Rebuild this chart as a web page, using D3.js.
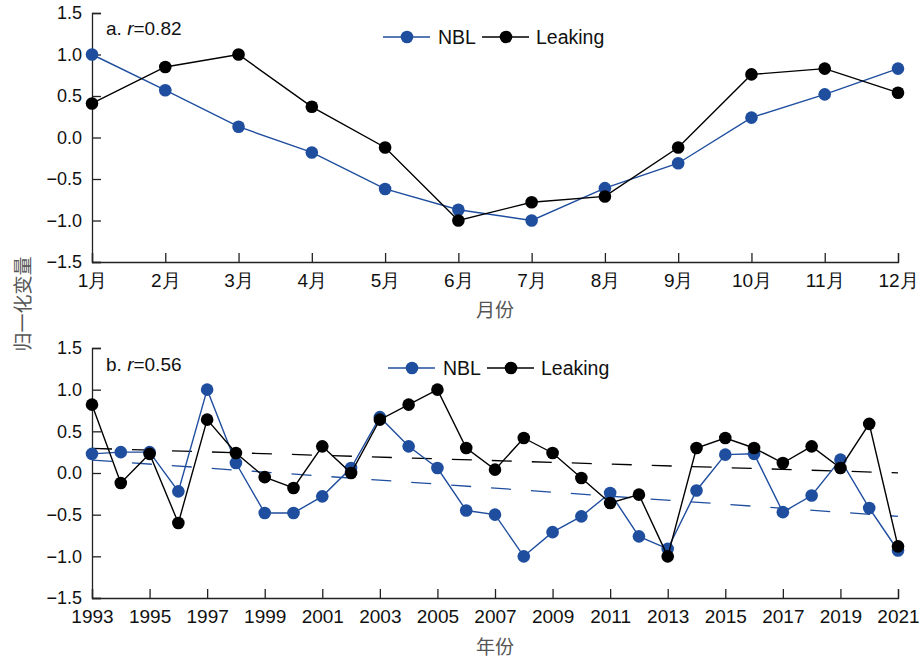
<!DOCTYPE html>
<html>
<head>
<meta charset="utf-8">
<script src="https://cdn.jsdelivr.net/npm/d3@7"></script>
<style>
  body { margin: 0; background: #fff; }
  svg { display: block; font-family: "Liberation Sans", Arial, sans-serif; }
</style>
</head>
<body>
<script>
(function (d3) {
    "use strict";

    /***** Data *****/
    var months = ["1月", "2月", "3月", "4月", "5月", "6月", "7月", "8月", "9月", "10月", "11月", "12月"];
    var nblMonthly = [1.0, 0.57, 0.13, -0.18, -0.62, -0.87, -1.0, -0.61, -0.31, 0.24, 0.52, 0.83];
    var leakMonthly = [0.41, 0.85, 1.0, 0.37, -0.12, -1.0, -0.78, -0.71, -0.12, 0.76, 0.83, 0.54];

    var years = [1993, 1994, 1995, 1996, 1997, 1998, 1999, 2000, 2001, 2002, 2003, 2004, 2005, 2006, 2007,
                 2008, 2009, 2010, 2011, 2012, 2013, 2014, 2015, 2016, 2017, 2018, 2019, 2020, 2021];
    var nblYearly = [0.23, 0.25, 0.25, -0.22, 1.0, 0.12, -0.48, -0.48, -0.28, 0.06, 0.67, 0.32, 0.06, -0.45, -0.50,
                     -1.0, -0.71, -0.52, -0.24, -0.76, -0.91, -0.21, 0.22, 0.23, -0.47, -0.27, 0.16, -0.42, -0.93];
    var leakYearly = [0.82, -0.12, 0.23, -0.60, 0.64, 0.24, -0.05, -0.18, 0.32, 0.0, 0.64, 0.82, 1.0, 0.30, 0.04,
                      0.42, 0.24, -0.06, -0.36, -0.26, -1.0, 0.30, 0.42, 0.30, 0.12, 0.32, 0.06, 0.59, -0.88];
    var yearTicks = [1993, 1995, 1997, 1999, 2001, 2003, 2005, 2007, 2009, 2011, 2013, 2015, 2017, 2019, 2021];
    var yTicks = [-1.5, -1.0, -0.5, 0.0, 0.5, 1.0, 1.5];

    /***** Configuration *****/
    var width = 921, height = 658;
    var left = 92, right = 898;
    var blue = "#1f4e9f";
    var dotR = 6.3;

    var svg = d3.select("body").append("svg")
        .attr("width", width)
        .attr("height", height);

    /***** Helpers *****/
    function drawAxes(g, xScale, yScale, xTickValues, xFormat) {
        var xAxis = d3.axisBottom(xScale).tickSizeInner(-9).tickSizeOuter(-9).tickPadding(12);
        if (xTickValues) xAxis.tickValues(xTickValues);
        if (xFormat) xAxis.tickFormat(xFormat);
        var yAxis = d3.axisLeft(yScale).tickValues(yTicks).tickFormat(d3.format(".1f"))
            .tickSizeInner(-9).tickSizeOuter(-9).tickPadding(10);

        var xg = g.append("g")
            .attr("transform", "translate(0," + yScale.range()[0] + ")")
            .call(xAxis);
        var yg = g.append("g")
            .attr("transform", "translate(" + left + ",0)")
            .call(yAxis);

        [xg, yg].forEach(function (a) {
            a.selectAll("path, line").attr("stroke", "#222").attr("stroke-width", 1.3);
            a.selectAll("text").attr("fill", "#111").attr("font-family", "Liberation Sans, Arial, sans-serif");
        });
        xg.selectAll("text").attr("font-size", 19);
        yg.selectAll("text").attr("font-size", 18);
    }

    function drawSeries(g, xs, values, xScale, yScale, color) {
        var pts = values.map(function (v, i) { return [xScale(xs[i]), yScale(v)]; });
        g.append("path")
            .attr("d", d3.line()(pts))
            .attr("fill", "none")
            .attr("stroke", color)
            .attr("stroke-width", 1.4);
        g.selectAll(null).data(pts).enter().append("circle")
            .attr("cx", function (d) { return d[0]; })
            .attr("cy", function (d) { return d[1]; })
            .attr("r", dotR)
            .attr("fill", color);
    }

    function drawLegend(g, x0, y0) {
        var items = [
            { label: "NBL", color: blue, x: x0, tx: x0 + 55 },
            { label: "Leaking", color: "#000", x: x0 + 99, tx: x0 + 153 }
        ];
        items.forEach(function (it) {
            g.append("line")
                .attr("x1", it.x).attr("x2", it.x + 47)
                .attr("y1", y0).attr("y2", y0)
                .attr("stroke", it.color).attr("stroke-width", 1.4);
            g.append("circle")
                .attr("cx", it.x + 24).attr("cy", y0).attr("r", dotR)
                .attr("fill", it.color);
            g.append("text")
                .attr("x", it.tx).attr("y", y0 + 7)
                .attr("font-size", 19.5)
                .attr("fill", "#111")
                .text(it.label);
        });
    }

    function drawLabel(g, x, y, prefix, r) {
        var t = g.append("text").attr("x", x).attr("y", y).attr("font-size", 19).attr("fill", "#111");
        t.append("tspan").text(prefix + " ");
        t.append("tspan").attr("font-style", "italic").text("r");
        t.append("tspan").text("=" + r);
    }

    function linearFit(xs, ys) {
        var mx = d3.mean(xs), my = d3.mean(ys);
        var num = d3.sum(xs, function (x, i) { return (x - mx) * (ys[i] - my); });
        var den = d3.sum(xs, function (x) { return (x - mx) * (x - mx); });
        var b = num / den;
        return function (x) { return my + b * (x - mx); };
    }

    /***** Panel a: monthly *****/
    var gA = svg.append("g");
    var xA = d3.scalePoint().domain(months).range([left, right]);
    var yA = d3.scaleLinear().domain([-1.5, 1.5]).range([262, 13]);
    drawAxes(gA, xA, yA, null, null);
    drawSeries(gA, months, nblMonthly, xA, yA, blue);
    drawSeries(gA, months, leakMonthly, xA, yA, "#000");
    drawLegend(gA, 383, 37);
    drawLabel(gA, 106, 35, "a.", "0.82");

    /***** Panel b: yearly *****/
    var gB = svg.append("g");
    var xB = d3.scaleLinear().domain([1993, 2021]).range([left, right]);
    var yB = d3.scaleLinear().domain([-1.5, 1.5]).range([598, 348]);
    drawAxes(gB, xB, yB, yearTicks, d3.format("d"));

    // trend lines (least squares on each series)
    [[nblYearly, blue], [leakYearly, "#000"]].forEach(function (s) {
        var f = linearFit(years, s[0]);
        gB.append("line")
            .attr("x1", xB(1993)).attr("y1", yB(f(1993)))
            .attr("x2", xB(2021)).attr("y2", yB(f(2021)))
            .attr("stroke", s[1]).attr("stroke-width", 1.3)
            .attr("stroke-dasharray", "20,20");
    });

    drawSeries(gB, years, nblYearly, xB, yB, blue);
    drawSeries(gB, years, leakYearly, xB, yB, "#000");
    drawLegend(gB, 388, 368);
    drawLabel(gB, 106, 371, "b.", "0.56");

    /***** Axis titles *****/
    var cjk = "'Noto Sans CJK SC', sans-serif";
    svg.append("text")
        .attr("x", 495).attr("y", 317)
        .attr("text-anchor", "middle")
        .attr("font-family", cjk).attr("font-size", 19).attr("fill", "#555")
        .text("月份");
    svg.append("text")
        .attr("x", 495).attr("y", 654)
        .attr("text-anchor", "middle")
        .attr("font-family", cjk).attr("font-size", 19).attr("fill", "#555")
        .text("年份");
    svg.append("text")
        .attr("transform", "translate(30,304) rotate(-90)")
        .attr("text-anchor", "middle")
        .attr("font-family", cjk).attr("font-size", 19).attr("fill", "#555")
        .text("归一化变量");

})(d3);
</script>
</body>
</html>
